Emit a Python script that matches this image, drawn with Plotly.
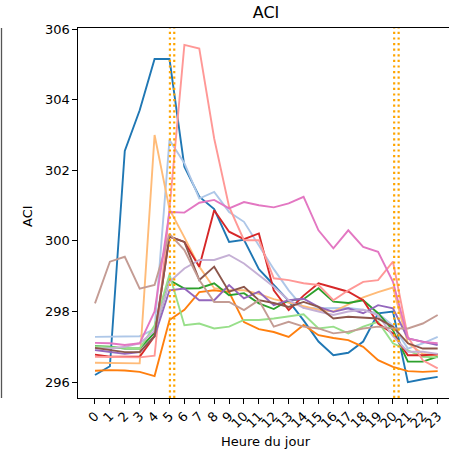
import plotly.graph_objects as go

hours = list(range(24))
tick_labels = [str(h) for h in hours]

blue = [296.2, 296.45, 302.55, 303.7, 305.15, 305.15, 302.1, 301.25, 300.9, 299.97, 300.03, 299.2,
        298.75, 298.3, 297.75, 297.15, 296.76, 296.83, 297.15, 297.95, 298.0, 296.0, 296.08, 296.15]
light_blue = [297.28, 297.28, 297.3, 297.3, 297.5, 302.86, 302.2, 301.2, 301.39, 300.82, 300.54, 299.85,
              299.2, 298.6, 298.1, 298.09, 298.1, 298.1, 298.05, 297.95, 297.6, 296.95, 297.1, 297.28]
orange = [296.32, 296.34, 296.33, 296.29, 296.17, 297.76, 298.05, 298.55, 298.6, 298.55, 297.7, 297.5,
          297.42, 297.28, 297.62, 297.33, 297.25, 297.19, 297.0, 296.62, 296.43, 296.31, 296.29, 296.31]
light_orange = [296.55, 296.55, 296.53, 296.53, 303.0, 300.9, 300.1, 299.27, 298.66, 298.6, 298.6, 298.5,
                298.35, 298.25, 298.15, 298.05, 298.0, 298.2, 298.4, 298.55, 298.68, 297.1, 296.8, 296.75]
green = [297.02, 297.0, 296.95, 296.95, 297.4, 298.89, 298.65, 298.66, 298.8, 298.46, 298.52, 298.23,
         298.07, 298.32, 298.35, 298.66, 298.28, 298.24, 298.32, 297.95, 297.47, 296.58, 296.58, 296.72]
light_green = [297.0, 296.98, 296.95, 296.95, 297.6, 299.05, 297.61, 297.66, 297.52, 297.57, 297.76, 297.76,
               297.8, 297.85, 297.92, 297.52, 297.57, 297.38, 297.57, 297.71, 297.1, 296.9, 296.72, 296.7]
red = [296.78, 296.72, 296.72, 296.72, 297.3, 300.12, 299.97, 299.27, 300.87, 300.26, 300.05, 300.21,
       298.6, 298.04, 298.45, 298.8, 298.68, 298.56, 298.32, 297.66, 297.38, 296.76, 296.76, 296.79]
light_red = [296.72, 296.72, 296.7, 296.7, 296.75, 300.9, 305.55, 305.45, 302.9, 300.97, 300.02, 300.02,
             298.94, 298.89, 298.8, 298.75, 298.32, 298.6, 298.84, 298.89, 299.41, 297.28, 296.62, 296.39]
purple = [296.91, 296.85, 296.8, 296.85, 297.3, 298.6, 298.65, 298.32, 298.32, 298.75, 298.37, 298.56,
          298.18, 298.32, 298.36, 298.13, 297.99, 298.09, 297.95, 298.18, 298.09, 297.24, 297.14, 297.05]
light_purple = [296.95, 296.95, 297.0, 297.1, 297.45, 298.84, 299.22, 299.46, 299.46, 299.6, 299.36, 299.03,
                298.7, 298.32, 298.1, 298.0, 297.9, 298.0, 298.05, 297.9, 297.3, 296.86, 296.86, 296.8]
brown = [296.97, 296.9, 296.85, 296.85, 297.3, 300.12, 299.97, 298.89, 299.27, 298.56, 298.7, 298.32,
         298.24, 298.13, 298.27, 298.13, 297.8, 297.85, 297.83, 297.8, 297.57, 297.1, 296.95, 296.95]
light_brown = [298.23, 299.41, 299.55, 298.65, 298.75, 300.2, 299.74, 298.89, 298.27, 298.27, 298.04, 298.32,
               297.57, 297.71, 297.57, 297.52, 297.38, 297.43, 297.52, 297.57, 297.52, 297.52, 297.66, 297.9]
pink = [297.11, 297.1, 297.05, 297.1, 298.0, 300.82, 300.8, 301.08, 301.16, 300.92, 301.1, 301.01,
        300.95, 301.06, 301.25, 300.3, 299.79, 300.3, 299.83, 299.69, 298.84, 297.24, 297.14, 297.1]

series = [blue, light_blue, orange, light_orange, green, light_green, red, light_red,
          purple, light_purple, brown, light_brown, pink]
colors = ["#1f77b4", "#aec7e8", "#ff7f0e", "#ffbb78", "#2ca02c", "#98df8a", "#d62728", "#ff9896",
          "#9467bd", "#c5b0d5", "#8c564b", "#c49c94", "#e377c2"]

sun_lines = [5.03, 5.32, 20.08, 20.38]

FONT = "DejaVu Sans"
fig = go.Figure()
for ys, c in zip(series, colors):
    fig.add_trace(go.Scatter(x=hours, y=ys, mode="lines", line=dict(color=c, width=1.9),
                             showlegend=False, hoverinfo="skip"))

for xv in sun_lines:
    fig.add_shape(type="line", xref="x", yref="paper", x0=xv, x1=xv, y0=0, y1=1,
                  line=dict(color="#ffa500", width=2.2, dash="2.2px,3.4px"), layer="above")

L, T, B = 78, 28, 63
W, H = 449, 461
pw = W - L
ph = H - T - B

# sliver of neighbouring panel frame at far left
fig.add_shape(type="line", xref="paper", yref="paper", x0=(1.5 - L) / pw, x1=(1.5 - L) / pw,
              y0=0, y1=1, line=dict(color="#555555", width=1.3))

fig.update_layout(
    width=W, height=H,
    margin=dict(l=L, r=0, t=T, b=B, pad=0),
    paper_bgcolor="white", plot_bgcolor="white",
    font=dict(family=FONT, size=13, color="black"),
    title=dict(text="ACI", x=(266 - L) / pw * pw / W + L / W, xanchor="center",
               y=1 - 12 / H, yanchor="middle", font=dict(size=16, family=FONT)),
    showlegend=False,
)
fig.update_xaxes(range=[-1.14, 23.76], tickvals=hours, ticktext=tick_labels, tickangle=-45,
                 ticks="outside", ticklen=4.5, tickwidth=1.1, tickcolor="black",
                 showline=True, linecolor="black", linewidth=1.1, mirror=True,
                 showgrid=False, zeroline=False, tickfont=dict(size=13))
fig.update_yaxes(range=[295.55, 306.03], tickvals=[296, 298, 300, 302, 304, 306],
                 ticks="outside", ticklen=4.5, tickwidth=1.1, tickcolor="black",
                 showline=True, linecolor="black", linewidth=1.1,
                 showgrid=False, zeroline=False, tickfont=dict(size=13))

fig.add_annotation(text="Heure du jour", xref="paper", yref="paper", x=(266 - L) / pw,
                   y=-(441 - (T + ph)) / ph, xanchor="center", yanchor="middle",
                   showarrow=False, font=dict(size=13))
fig.add_annotation(text="ACI", xref="paper", yref="paper", x=(27 - L) / pw,
                   y=1 - (216 - T) / ph, xanchor="center", yanchor="middle", textangle=-90,
                   showarrow=False, font=dict(size=13))

fig.write_html("out.html")
